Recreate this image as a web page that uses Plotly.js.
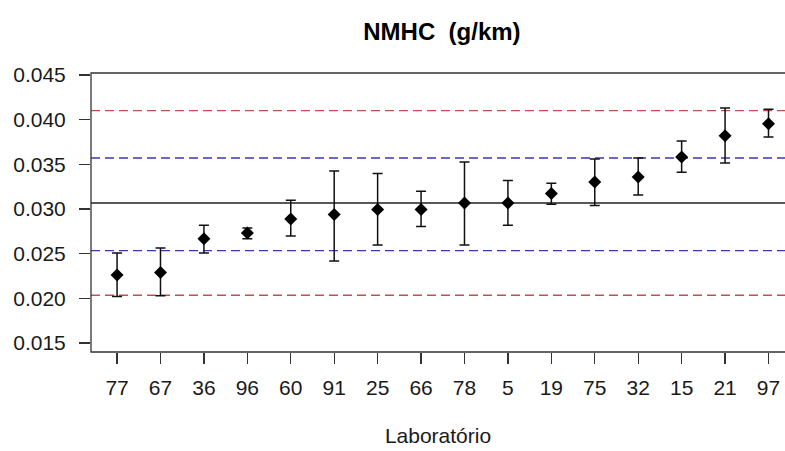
<!DOCTYPE html>
<html>
<head>
<meta charset="utf-8">
<script src="https://cdn.plot.ly/plotly-3.0.1.min.js"></script>
<style>html,body{margin:0;padding:0;background:#fff;overflow:hidden}#chart{width:785px;height:451px}</style>
</head>
<body>
<div id="chart"></div>
<script>
// Laboratory codes (x categories, ordered as in the chart)
const labs = ["77","67","36","96","60","91","25","66","78","5","19","75","32","15","21","97"];
// Mean values per laboratory (g/km)
const means = [0.02261,0.02288,0.02668,0.02731,0.02888,0.02937,0.02993,0.02993,0.03067,0.03067,0.03172,0.03302,0.03358,0.03582,0.03821,0.03955];
// Upper and lower ends of the error bars
const upper = [0.02507,0.02563,0.02817,0.02787,0.03097,0.03425,0.03396,0.03198,0.03526,0.03318,0.03288,0.03560,0.03571,0.03761,0.04131,0.04116];
const lower = [0.02019,0.02030,0.02507,0.02668,0.02698,0.02418,0.02597,0.02803,0.02597,0.02817,0.03053,0.03038,0.03157,0.03411,0.03515,0.03806];
// Reference lines
const centralValue = 0.03067;
const blueLimits = [0.02534, 0.03571];
const redLimits = [0.02034, 0.04101];
// Y tick values
const yTicks = [0.015,0.020,0.025,0.030,0.035,0.040,0.045];

const errPlus = upper.map((u,i)=>u-means[i]);
const errMinus = means.map((m,i)=>m-lower[i]);

const font = "Liberation Sans, Arial, sans-serif";
const dark = "#1a1a1a";

const trace = {
  type: "scatter", mode: "markers",
  x: labs, y: means,
  marker: {symbol: "diamond", size: 10, color: "#000"},
  error_y: {type: "data", symmetric: false, array: errPlus, arrayminus: errMinus,
            color: "#111", thickness: 1.5, width: 5},
  showlegend: false, cliponaxis: false
};

function hline(y, color, dash, w){
  return {type:"line", xref:"paper", x0:0, x1:1, yref:"y", y0:y, y1:y,
          line:{color:color, width:w, dash:dash}, layer:"below"};
}
const shapes = [
  hline(redLimits[0], "#c0504d", "9px,5px", 1.4),
  hline(redLimits[1], "#c0504d", "9px,5px", 1.4),
  hline(blueLimits[0], "#3a3ab0", "9px,5px", 1.4),
  hline(blueLimits[1], "#3a3ab0", "9px,5px", 1.4),
  hline(centralValue, "#222", "solid", 1.3),
  {type:"rect", xref:"paper", yref:"paper", x0:0, x1:1.05, y0:0, y1:1,
   line:{color:"#333", width:1.3}, fillcolor:"rgba(0,0,0,0)", layer:"above"}
];

const layout = {
  width: 785, height: 451,
  margin: {l: 91, r: 0, t: 73, b: 99, pad: 0},
  paper_bgcolor: "#fff", plot_bgcolor: "#fff",
  title: {text: "<b>NMHC\u00A0\u00A0(g/km)</b>", font: {family: font, size: 24, color: "#000"},
          xref: "container", yref: "container", x: 0.563, xanchor: "center", y: 0.93, yanchor: "middle"},
  xaxis: {type: "category", range: [-0.6, 15.38], showgrid: false, zeroline: false,
          showline: false, ticks: "outside", ticklen: 11, tickwidth: 1.3, tickcolor: "#333",
          tickfont: {family: font, size: 21, color: dark}, ticklabelstandoff: 6,
          title: {text: "Laboratório", font: {family: font, size: 21, color: dark}, standoff: 30},
          automargin: false},
  yaxis: {range: [0.01399, 0.04522], tickvals: yTicks, ticktext: yTicks.map(v=>v.toFixed(3)),
          showgrid: false, zeroline: false, showline: false,
          ticks: "outside", ticklen: 11, tickwidth: 1.3, tickcolor: "#333",
          tickfont: {family: font, size: 21, color: dark}, ticklabelstandoff: 9,
          automargin: false},
  shapes: shapes
};

Plotly.newPlot("chart", [trace], layout, {staticPlot: true, displayModeBar: false});
</script>
</body>
</html>
